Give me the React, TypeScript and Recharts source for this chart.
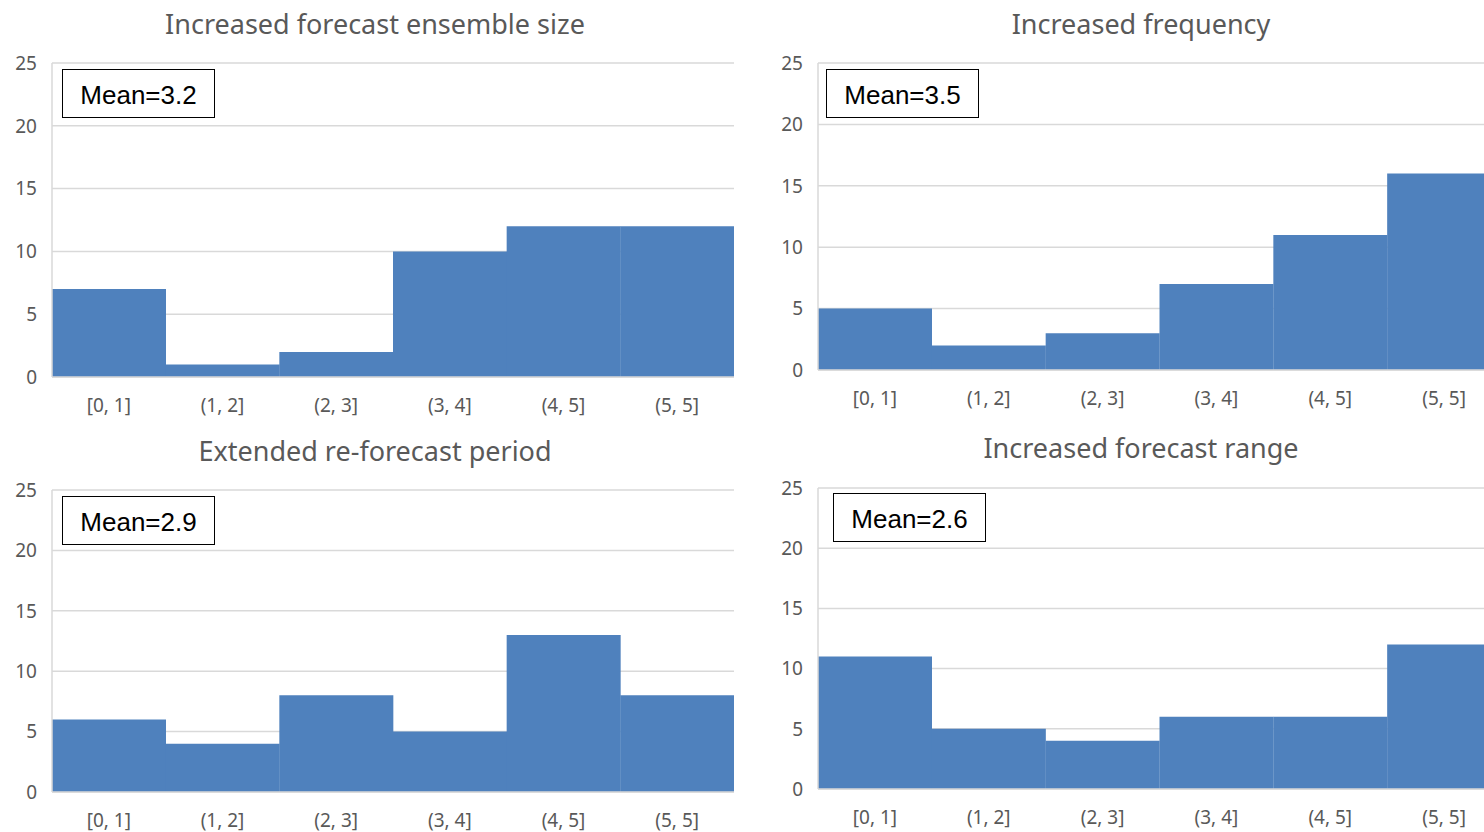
import React from 'react'
import { BarChart, Bar, XAxis, YAxis, CartesianGrid } from 'recharts'

const categories = ['[0, 1]', '(1, 2]', '(2, 3]', '(3, 4]', '(4, 5]', '(5, 5]']
const ensembleSize = [7, 1, 2, 10, 12, 12]
const frequency = [5, 2, 3, 7, 11, 16]
const reforecastPeriod = [6, 4, 8, 5, 13, 8]
const forecastRange = [11, 5, 4, 6, 6, 12]
const yTicks = [0, 5, 10, 15, 20, 25]

const titles = [
  'Increased forecast ensemble size',
  'Increased frequency',
  'Extended re-forecast period',
  'Increased forecast range',
]
const means = ['3.2', '3.5', '2.9', '2.6']

const toRows = (values: number[]) =>
  categories.map((name, i) => ({ name, value: values[i] }))

const FONT = '"Noto Sans", "Open Sans", sans-serif'
const GRAY = '#595959'
const GRID = '#d9d9d9'
const BLUE = '#4f81bd'

interface PanelProps {
  values: number[]
  title: string
  mean: string
  chartLeft: number
  chartTop: number
  plotTop: number
  plotBottom: number
  plotRight: number
  titleX: number
  titleY: number
  boxX: number
  boxY: number
}

const AXIS_W = 52

function Panel({
  values,
  title,
  mean,
  chartLeft,
  chartTop,
  plotTop,
  plotBottom,
  plotRight,
  titleX,
  titleY,
  boxX,
  boxY,
}: PanelProps) {
  const width = plotRight - chartLeft
  const height = plotBottom - chartTop + 42
  return (
    <>
      <div
        style={{
          position: 'absolute',
          left: titleX - 300,
          width: 600,
          top: titleY - 18,
          height: 36,
          lineHeight: '36px',
          textAlign: 'center',
          fontFamily: FONT,
          fontSize: 27,
          color: GRAY,
        }}
      >
        {title}
      </div>
      <div style={{ position: 'absolute', left: chartLeft, top: chartTop }}>
        <BarChart
          width={width}
          height={height}
          data={toRows(values)}
          barCategoryGap={0}
          margin={{ top: plotTop - chartTop, right: 0, bottom: 0, left: 0 }}
        >
          <CartesianGrid vertical={false} stroke={GRID} strokeWidth={1.5} />
          <XAxis
            dataKey="name"
            interval={0}
            height={42}
            axisLine={{ stroke: GRID, strokeWidth: 1.5 }}
            tickLine={false}
            tickSize={0}
            tickMargin={22}
            tick={{ fill: GRAY, fontSize: 19, fontFamily: FONT }}
          />
          <YAxis
            width={AXIS_W}
            domain={[0, 25]}
            ticks={yTicks}
            interval={0}
            axisLine={{ stroke: GRID, strokeWidth: 1.5 }}
            tickLine={false}
            tickSize={0}
            tickMargin={15}
            tick={{ fill: GRAY, fontSize: 19, fontFamily: FONT }}
          />
          <Bar dataKey="value" fill={BLUE} isAnimationActive={false} />
        </BarChart>
      </div>
      <div
        style={{
          position: 'absolute',
          left: boxX,
          top: boxY,
          width: 153,
          height: 49,
          boxSizing: 'border-box',
          paddingTop: 4,
          border: '1.5px solid #000',
          background: '#fff',
          display: 'flex',
          alignItems: 'center',
          justifyContent: 'center',
          fontFamily: '"Liberation Sans", Arial, sans-serif',
          fontSize: 26,
          color: '#000',
        }}
      >
        Mean={mean}
      </div>
    </>
  )
}

export default function App() {
  return (
    <div
      style={{
        position: 'fixed',
        left: 0,
        top: 0,
        width: 1484,
        height: 832,
        overflow: 'hidden',
        background: '#fff',
      }}
    >
      <Panel
        values={ensembleSize}
        title={titles[0]}
        mean={means[0]}
        chartLeft={0}
        chartTop={0}
        plotTop={63}
        plotBottom={377}
        plotRight={734}
        titleX={375}
        titleY={24}
        boxX={62}
        boxY={69}
      />
      <Panel
        values={frequency}
        title={titles[1]}
        mean={means[1]}
        chartLeft={766}
        chartTop={0}
        plotTop={63}
        plotBottom={370}
        plotRight={1501}
        titleX={1141}
        titleY={24}
        boxX={826}
        boxY={69}
      />
      <Panel
        values={reforecastPeriod}
        title={titles[2]}
        mean={means[2]}
        chartLeft={0}
        chartTop={420}
        plotTop={490}
        plotBottom={792}
        plotRight={734}
        titleX={375}
        titleY={451}
        boxX={62}
        boxY={496}
      />
      <Panel
        values={forecastRange}
        title={titles[3]}
        mean={means[3]}
        chartLeft={766}
        chartTop={420}
        plotTop={488}
        plotBottom={789}
        plotRight={1501}
        titleX={1141}
        titleY={448}
        boxX={833}
        boxY={493}
      />
    </div>
  )
}
